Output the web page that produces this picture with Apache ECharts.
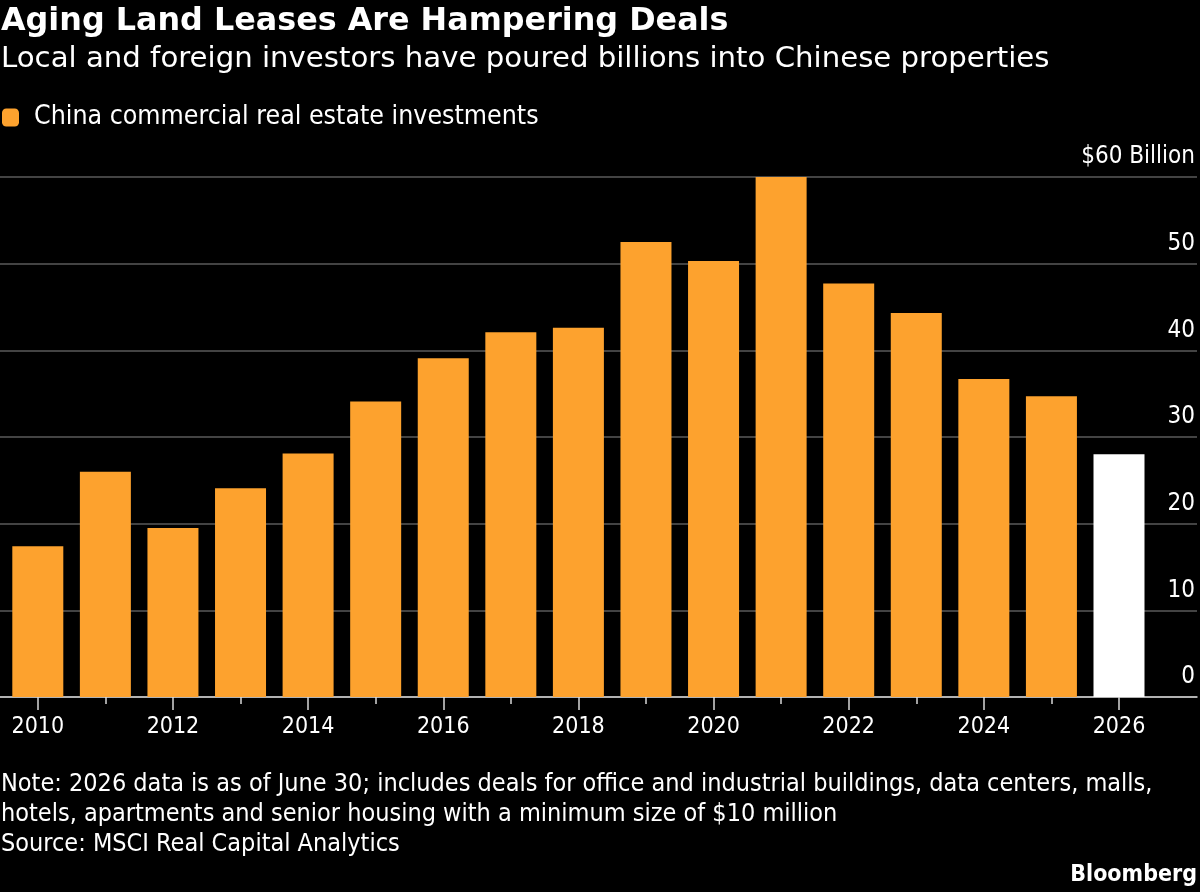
<!DOCTYPE html>
<html>
<head>
<meta charset="utf-8">
<script src="https://cdn.jsdelivr.net/npm/echarts@6/dist/echarts.min.js"></script>
<style>
  html, body { margin: 0; padding: 0; background: #000; }
  #chart { width: 1200px; height: 892px; }
</style>
</head>
<body>
<div id="chart"></div>
<script>
const years = [2010, 2011, 2012, 2013, 2014, 2015, 2016, 2017, 2018, 2019, 2020, 2021, 2022, 2023, 2024, 2025, 2026];
const investments = [17.4, 26.0, 19.5, 24.1, 28.1, 34.1, 39.1, 42.1, 42.6, 52.5, 50.3, 60.2, 47.7, 44.3, 36.7, 34.7, 28.0];
const partialYear = 2026;
const labelYears = [2010, 2012, 2014, 2016, 2018, 2020, 2022, 2024, 2026];
const minorYears = [2011, 2013, 2015, 2017, 2019, 2021, 2023, 2025];

const FONT = "'DejaVu Sans Condensed', 'DejaVu Sans', sans-serif";
const WIDE = "'DejaVu Sans', sans-serif";
const ORANGE = '#fda22e';

const chartDom = document.getElementById('chart');
const mychart = echarts.init(chartDom, null, { renderer: 'canvas' });

const barData = years.map(function (y, i) {
  if (y === partialYear) {
    return { value: [y, investments[i]], itemStyle: { color: '#ffffff' } };
  }
  return [y, investments[i]];
});

const axisMin = 2009.4406;
const axisMax = 2027.1543;

const option = {
  backgroundColor: '#000',
  animation: false,
  title: [
    {
      text: 'Aging Land Leases Are Hampering Deals',
      left: 1, top: 6, padding: 0,
      textStyle: { color: '#fff', fontFamily: WIDE, fontWeight: 'bold', fontSize: 31.8 }
    },
    {
      text: 'Local and foreign investors have poured billions into Chinese properties',
      left: 1, top: 45, padding: 0,
      textStyle: { color: '#fff', fontFamily: WIDE, fontWeight: 'normal', fontSize: 29.2 }
    },
    {
      text: 'Note: 2026 data is as of June 30; includes deals for office and industrial buildings, data centers, malls,\nhotels, apartments and senior housing with a minimum size of $10 million\nSource: MSCI Real Capital Analytics',
      left: 1, top: 769, padding: 0,
      textStyle: { color: '#fff', fontFamily: FONT, fontWeight: 'normal', fontSize: 25, lineHeight: 30 }
    },
    {
      text: 'Bloomberg',
      right: 3, top: 864, padding: 0,
      textStyle: { color: '#fff', fontFamily: FONT, fontWeight: 'bold', fontSize: 23 }
    }
  ],
  legend: {
    left: 2, top: 104, padding: 0,
    itemWidth: 17, itemHeight: 18,
    icon: 'roundRect',
    itemGap: 10,
    textStyle: { color: '#fff', fontFamily: FONT, fontSize: 26.5, padding: [0, 0, 0, 10] },
    data: ['China commercial real estate investments']
  },
  grid: { left: 0, right: 3, top: 177, bottom: 195, containLabel: false },
  xAxis: [
    {
      type: 'value',
      min: axisMin, max: axisMax,
      position: 'bottom',
      splitLine: { show: false },
      axisLine: { show: true, lineStyle: { color: '#d8d8d8', width: 1.5 } },
      axisTick: { show: true, length: 13, customValues: labelYears, lineStyle: { color: '#d8d8d8', width: 1.5 } },
      axisLabel: {
        customValues: labelYears,
        color: '#fff', fontFamily: FONT, fontSize: 23, margin: 19,
        formatter: function (v) { return String(Math.round(v)); }
      }
    },
    {
      type: 'value',
      min: axisMin, max: axisMax,
      position: 'bottom',
      splitLine: { show: false },
      axisLine: { show: false },
      axisTick: { show: true, length: 7, customValues: minorYears, lineStyle: { color: '#d8d8d8', width: 1.5 } },
      axisLabel: { show: false }
    }
  ],
  yAxis: {
    type: 'value',
    position: 'right',
    min: 0, max: 60, interval: 10,
    axisLine: { show: false },
    axisTick: { show: false },
    splitLine: { show: true, lineStyle: { color: '#5a5a5a', width: 1.5 } },
    axisLabel: {
      inside: true, margin: 2,
      verticalAlign: 'bottom',
      padding: [0, 0, 8, 0],
      color: '#fff', fontFamily: FONT, fontSize: 24,
      formatter: function (v) { return v === 60 ? '$60 Billion' : String(v); }
    }
  },
  series: [
    {
      name: 'China commercial real estate investments',
      type: 'bar',
      xAxisIndex: 0,
      barWidth: 51,
      itemStyle: { color: ORANGE },
      data: barData
    }
  ]
};

mychart.setOption(option);
</script>
</body>
</html>
